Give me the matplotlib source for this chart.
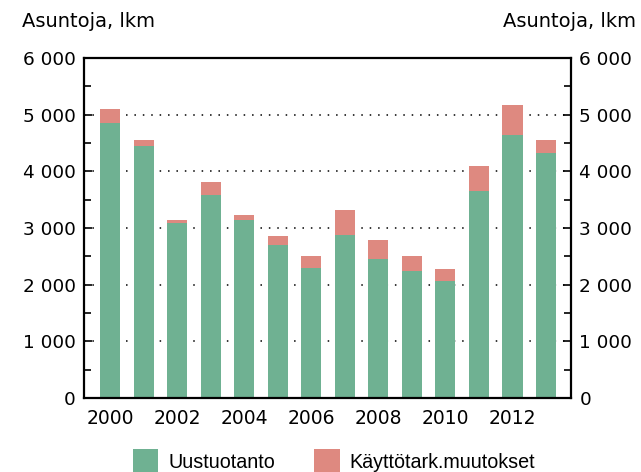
import numpy as np, matplotlib
matplotlib.use('Agg')
import matplotlib.pyplot as plt
from matplotlib.ticker import MultipleLocator, FuncFormatter

years = list(range(2000, 2014))
uustuotanto = [4846, 4444, 3081, 3575, 3140, 2693, 2293, 2869, 2446, 2234, 2058, 3646, 4633, 4316]
kayttotark = [246, 118, 53, 229, 82, 159, 206, 441, 335, 265, 212, 440, 547, 246]
xlabels = ['2000', '', '2002', '', '2004', '', '2006', '', '2008', '', '2010', '', '2012', '']

green = '#6fb192'
red = '#de8980'

plt.rcParams['font.family'] = 'DejaVu Sans'
fig = plt.figure(figsize=(6.41, 4.72), dpi=100)
ax = fig.add_axes([0.131, 0.157, 0.76, 0.72])

x = np.arange(len(years))
ax.bar(x, uustuotanto, width=0.6, color=green, zorder=2, label='Uustuotanto')
ax.bar(x, kayttotark, width=0.6, bottom=uustuotanto, color=red, zorder=2, label='Käyttötark.muutokset')

ax.set_ylim(0, 6000)
ax.set_xlim(-0.78, 13.75)
ax.yaxis.set_major_locator(MultipleLocator(1000))
ax.yaxis.set_minor_locator(MultipleLocator(500))
fmt = FuncFormatter(lambda v, p: f'{int(v):,}'.replace(',', ' '))
ax.yaxis.set_major_formatter(fmt)
ax.set_xticks(x)
ax.set_xticklabels(xlabels)
ax.tick_params(axis='x', length=0, labelsize=13.5, pad=8)
ax.tick_params(axis='y', which='both', direction='in', left=True, right=True,
               labelleft=True, labelright=True, labelsize=13.3, width=1.2, pad=6)
ax.tick_params(axis='y', which='major', length=6)
ax.tick_params(axis='y', which='minor', length=5)

for gy in range(1000, 6000, 1000):
    ax.axhline(gy, color='black', lw=1.1, ls=(0, (1, 4.5)), zorder=1)

for s in ax.spines.values():
    s.set_linewidth(1.6)

fig.text(0.034, 0.955, 'Asuntoja, lkm', fontsize=14, ha='left', va='center')
fig.text(0.992, 0.955, 'Asuntoja, lkm', fontsize=14, ha='right', va='center')

fig.legend(loc='lower center', bbox_to_anchor=(0.521, -0.04), ncol=2, frameon=False,
           prop={'family': 'Liberation Sans', 'size': 14.2}, handlelength=1.3, handleheight=1.5,
           handletextpad=0.5, columnspacing=2.0)

fig.savefig('out.png', dpi=100)
